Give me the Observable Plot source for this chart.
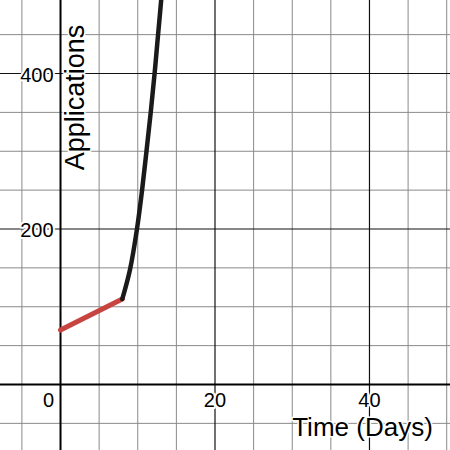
<!DOCTYPE html>
<html>
<head>
<meta charset="utf-8">
<script src="https://cdn.jsdelivr.net/npm/d3@7"></script>
<script src="https://cdn.jsdelivr.net/npm/@observablehq/plot@0.6"></script>
<style>
  html, body { margin: 0; padding: 0; background: #fff; }
  #chart svg { display: block; }
</style>
</head>
<body>
<div id="chart"></div>
<script>
// Phase 1 (red, linear) readings
const redX = [0, 8];
const redY = [70, 110];
// Phase 2 (black, fast growth) readings
const blackX = [8, 9.0, 9.9, 10.56, 11.13, 11.68, 12.18, 12.63, 13.03, 13.4];
const blackY = [110, 148, 200, 250, 300, 350, 400, 450, 494, 540];
// Grid and ticks
const minorGridX = [-5, 5, 10, 15, 25, 30, 35, 45, 50];
const majorGridX = [20, 40];
const minorGridY = [-50, 50, 100, 150, 250, 300, 350, 450];
const majorGridY = [200, 400];
const originTick = [0];
const xTickValues = [20, 40];
const yTickValues = [200, 400];
const xTitle = "Time (Days)";
const yTitle = "Applications";

const redData = redX.map((x, i) => ({x, y: redY[i]}));
const blackData = blackX.map((x, i) => ({x, y: blackY[i]}));
const font = "'Liberation Sans', Arial, sans-serif";
const tickStyle = {fontSize: 20, fill: "#000", stroke: "#fff", strokeWidth: 4};

const chart = Plot.plot({
  width: 450,
  height: 450,
  margin: 0,
  style: {fontFamily: font, background: "#fff"},
  x: {domain: [-7.77, 50.49], axis: null},
  y: {domain: [-84.9, 493.9], axis: null},
  marks: [
    Plot.ruleX(minorGridX, {stroke: "#8a8a8a", strokeWidth: 1}),
    Plot.ruleY(minorGridY, {stroke: "#8a8a8a", strokeWidth: 1}),
    Plot.ruleX(majorGridX, {stroke: "#111", strokeWidth: 1.2}),
    Plot.ruleY(majorGridY, {stroke: "#111", strokeWidth: 1.2}),
    Plot.ruleX([0], {stroke: "#000", strokeWidth: 2}),
    Plot.ruleY([0], {stroke: "#000", strokeWidth: 2}),
    Plot.line(redData, {x: "x", y: "y", stroke: "#c74440", strokeWidth: 5, strokeLinecap: "round"}),
    Plot.line(blackData, {x: "x", y: "y", stroke: "#1a1a1a", strokeWidth: 4.5, curve: "catmull-rom", clip: true}),
    Plot.text(yTickValues, {x: 0, y: d => d, text: d => String(d), textAnchor: "end", dx: -7, dy: 2, ...tickStyle}),
    Plot.text(xTickValues, {x: d => d, y: 0, text: d => String(d), dy: 16, ...tickStyle}),
    Plot.text(originTick, {x: d => d, y: 0, text: d => String(d), dx: -12, dy: 16, ...tickStyle}),
    Plot.text([yTitle], {frameAnchor: "top-left", text: d => d, dx: 75, dy: 97, rotate: -90,
      textAnchor: "middle", lineAnchor: "middle", fontSize: 27, fill: "#000", stroke: "#fff", strokeWidth: 3}),
    Plot.text([xTitle], {frameAnchor: "top-left", text: d => d, dx: 362, dy: 427,
      textAnchor: "middle", lineAnchor: "middle", fontSize: 26, fill: "#000", stroke: "#fff", strokeWidth: 3})
  ]
});
document.getElementById("chart").appendChild(chart);
</script>
</body>
</html>
